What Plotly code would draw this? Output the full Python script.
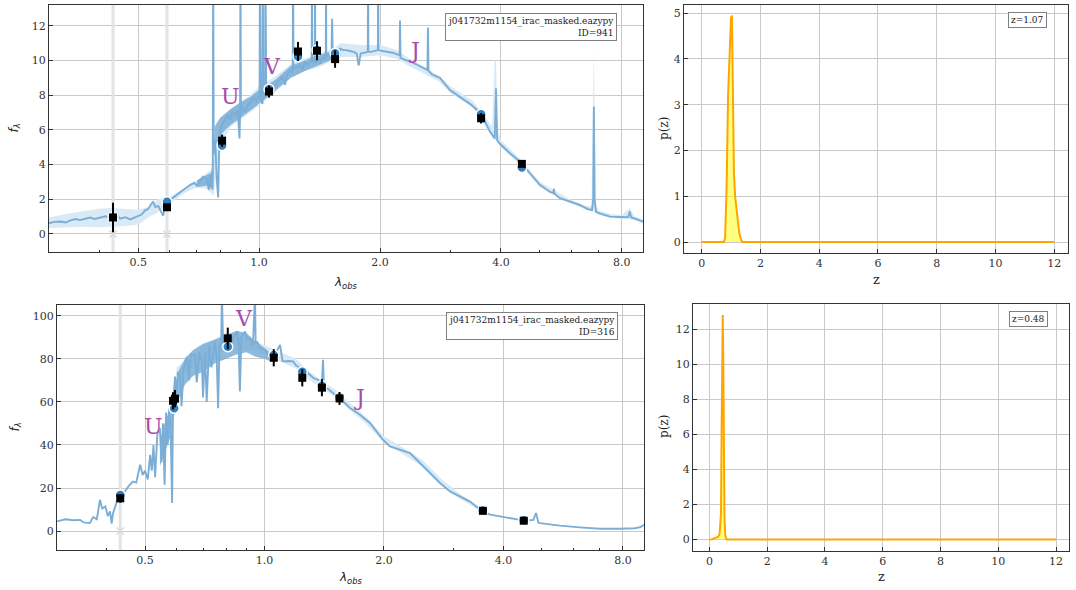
import math
import plotly.graph_objects as go

# ---------------- data: top object (ID=941) ----------------
top_wave = [
    0.300, 0.310, 0.320, 0.330, 0.339, 0.350, 0.358, 0.370, 0.380, 0.390,
    0.402, 0.415, 0.425, 0.433, 0.445, 0.451, 0.465, 0.478, 0.490, 0.500,
    0.510, 0.520, 0.530, 0.540, 0.545, 0.552, 0.561, 0.570, 0.577, 0.583,
    0.590, 0.601, 0.615, 0.636, 0.655, 0.673, 0.690, 0.700, 0.713, 0.725,
    0.742, 0.750, 0.755, 0.762, 0.767, 0.769, 0.771, 0.778, 0.785, 0.791,
    0.796, 0.803, 0.810, 0.823, 0.835, 0.847, 0.860, 0.873, 0.885, 0.894,
    0.897, 0.899, 0.901, 0.915, 0.925, 0.940, 0.953, 0.970, 0.985, 0.998,
    1.003, 1.005, 1.010, 1.020, 1.022, 1.024, 1.030, 1.035, 1.037, 1.042,
    1.055, 1.065, 1.080, 1.095, 1.110, 1.128, 1.145, 1.160, 1.175, 1.194,
    1.208, 1.213, 1.215, 1.218, 1.240, 1.265, 1.280, 1.300, 1.320, 1.340,
    1.352, 1.354, 1.356, 1.365, 1.376, 1.378, 1.380, 1.400, 1.420, 1.440,
    1.455, 1.466, 1.468, 1.470, 1.490, 1.515, 1.520, 1.525, 1.560, 1.591,
    1.620, 1.650, 1.684, 1.720, 1.750, 1.770, 1.790, 1.830, 1.865, 1.868,
    1.871, 1.900, 1.940, 1.976, 1.979, 1.982, 2.030, 2.090, 2.150, 2.210,
    2.238, 2.243, 2.250, 2.300, 2.375, 2.450, 2.515, 2.580, 2.625, 2.633,
    2.641, 2.694, 2.820, 2.987, 3.164, 3.350, 3.570, 3.756, 3.860, 3.889,
    3.915, 3.977, 4.212, 4.510, 4.724, 5.002, 5.297, 5.400, 5.418, 5.440,
    5.609, 5.937, 6.291, 6.583, 6.740, 6.790, 6.814, 6.840, 6.900, 7.051,
    7.467, 7.909, 8.300, 8.370, 8.440, 8.700, 9.030,
]
top_flux = [
    0.63, 0.70, 0.72, 0.66, 0.78, 0.86, 0.80, 0.90, 0.95, 0.86,
    0.92, 1.02, 0.94, 0.98, 1.04, 0.88, 0.97, 0.84, 0.96, 1.05,
    1.12, 1.35, 1.45, 1.75, 1.85, 1.55, 1.62, 1.30, 1.05, 1.55,
    1.78, 1.96, 2.12, 2.40, 2.62, 2.82, 2.95, 2.78, 3.05, 3.30,
    3.15, 2.55, 3.40, 2.70, 4.00, 16.0, 4.60, 5.40, 3.10, 2.10,
    5.20, 6.10, 6.30, 6.55, 6.85, 6.60, 7.05, 6.85, 7.15, 5.50,
    7.00, 16.0, 7.00, 7.25, 7.05, 7.50, 7.60, 7.85, 7.65, 7.95,
    7.90, 16.0, 7.70, 7.50, 16.0, 7.80, 7.90, 7.95, 16.0, 8.00,
    8.30, 8.20, 8.60, 8.45, 8.80, 8.90, 9.05, 8.60, 9.20, 9.40,
    9.30, 9.40, 16.0, 9.50, 9.60, 9.70, 9.45, 9.90, 9.75, 9.90,
    10.0, 16.0, 9.95, 10.0, 9.90, 16.0, 9.85, 10.10, 9.90, 10.20,
    10.10, 10.20, 16.0, 10.30, 10.25, 10.35, 12.40, 10.40, 10.50, 10.70,
    10.60, 10.60, 10.55, 10.50, 10.40, 9.70, 10.40, 10.45, 10.50, 16.0,
    10.50, 10.50, 10.55, 10.60, 16.0, 10.60, 10.55, 10.50, 10.45, 10.35,
    10.30, 12.30, 10.15, 10.05, 9.95, 9.80, 9.65, 9.50, 9.45, 11.90,
    9.40, 9.20, 9.00, 8.30, 7.90, 7.50, 6.95, 5.90, 5.50, 8.40,
    5.40, 5.20, 4.65, 4.08, 3.50, 2.83, 2.42, 2.35, 2.62, 2.30,
    2.06, 1.86, 1.67, 1.43, 1.38, 2.00, 7.35, 2.00, 1.28, 1.19,
    1.00, 0.98, 0.97, 1.30, 0.95, 0.85, 0.71,
]
# uncertainty band of the model
top_band_wave = [
    0.30, 0.33, 0.36, 0.40, 0.43, 0.46, 0.50, 0.53, 0.56, 0.60,
    0.65, 0.70, 0.74, 0.77, 0.80, 0.85, 0.90, 0.95, 1.00, 1.10,
    1.20, 1.30, 1.40, 1.50, 1.60, 1.80, 2.00, 2.20, 2.40, 2.60,
    2.80, 3.00, 3.40, 3.80, 3.86, 3.89, 3.92, 4.00, 4.50, 5.00,
    5.50, 6.00, 6.50, 6.72, 6.81, 6.90, 7.00, 7.50, 8.00, 8.37,
    8.60, 9.03,
]
top_band_lo = [
    0.35, 0.40, 0.42, 0.38, 0.40, 0.45, 0.55, 0.95, 1.25, 1.75,
    2.35, 2.70, 2.60, 2.20, 5.00, 6.20, 6.60, 7.00, 7.40, 8.20,
    9.00, 9.40, 9.60, 9.90, 10.20, 10.20, 10.30, 10.10, 9.60, 9.20,
    8.80, 8.10, 7.30, 5.60, 5.40, 5.40, 5.30, 5.00, 3.90, 2.70,
    2.20, 1.75, 1.40, 1.30, 1.30, 1.20, 1.10, 0.95, 0.85, 0.85,
    0.80, 0.60,
]
top_band_hi = [
    0.95, 1.15, 1.30, 1.45, 1.50, 1.45, 1.40, 1.55, 2.00, 2.15,
    2.60, 3.05, 3.50, 3.80, 6.60, 7.20, 7.60, 8.00, 8.50, 9.10,
    9.80, 10.10, 10.40, 10.60, 11.00, 10.90, 10.90, 10.60, 10.00, 9.60,
    9.10, 8.50, 7.70, 6.20, 10.00, 10.00, 6.00, 5.40, 4.25, 3.00,
    2.45, 1.95, 1.60, 1.60, 10.60, 1.60, 1.35, 1.15, 1.10, 1.50,
    1.00, 0.85,
]
# envelope of the densely sampled (noisy) part of the model spectrum
top_dense_wave = [0.70, 0.74, 0.77, 0.775, 0.80, 0.85, 0.90, 0.95, 1.00, 1.05,
                  1.10, 1.20, 1.30, 1.40, 1.50, 1.60]
top_dense_lo = [2.70, 2.80, 2.50, 4.60, 5.70, 6.30, 6.70, 7.10, 7.50, 7.90,
                8.30, 9.00, 9.40, 9.70, 10.00, 10.30]
top_dense_hi = [3.10, 3.40, 3.60, 6.20, 6.70, 7.20, 7.60, 7.90, 8.30, 8.60,
                8.90, 9.70, 10.00, 10.30, 10.50, 10.70]

top_phot_wave = [0.433, 0.590, 0.809, 1.059, 1.250, 1.394, 1.546, 3.570, 4.510]
top_obs_flux = [0.95, 1.54, 5.38, 8.21, 10.52, 10.56, 10.08, 6.67, 4.04]
top_obs_err = [0.85, 0.18, 0.35, 0.35, 0.55, 0.55, 0.50, 0.30, 0.18]
top_model_flux = [0.97, 1.86, 5.10, 8.35, 10.23, 10.60, 10.42, 6.90, 3.83]
top_masked_wave = [0.433, 0.590]
top_masked_flux = [0.0, 0.0]

# ---------------- data: bottom object (ID=316) ----------------
bot_wave = [
    0.300, 0.315, 0.330, 0.343, 0.350, 0.363, 0.370, 0.378, 0.385, 0.390,
    0.397, 0.403, 0.408, 0.412, 0.415, 0.425, 0.433, 0.445, 0.455, 0.466,
    0.475, 0.486, 0.493, 0.500, 0.508, 0.515, 0.520, 0.525, 0.530, 0.537,
    0.545, 0.550, 0.555, 0.560, 0.565, 0.570, 0.575, 0.580, 0.585, 0.588,
    0.595, 0.600, 0.605, 0.612, 0.618, 0.625, 0.638, 0.645, 0.652, 0.668,
    0.675, 0.685, 0.695, 0.700, 0.708, 0.715, 0.725, 0.735, 0.750, 0.758,
    0.764, 0.770, 0.778, 0.781, 0.786, 0.795, 0.809, 0.820, 0.835, 0.853,
    0.860, 0.867, 0.874, 0.893, 0.905, 0.919, 0.935, 0.946, 0.950, 0.958,
    0.975, 0.990, 1.003, 1.020, 1.050, 1.070, 1.094, 1.110, 1.126, 1.150,
    1.180, 1.200, 1.229, 1.250, 1.275, 1.302, 1.330, 1.364, 1.395, 1.404,
    1.412, 1.437, 1.500, 1.549, 1.642, 1.740, 1.844, 1.920, 1.988, 2.071,
    2.194, 2.326, 2.464, 2.611, 2.767, 2.933, 3.108, 3.293, 3.450, 3.550,
    3.698, 3.919, 4.153, 4.401, 4.664, 4.760, 4.830, 4.900, 4.943, 5.550,
    6.230, 7.000, 7.860, 8.580, 8.850, 9.040,
]
bot_flux = [
    4.5, 5.5, 5.0, 5.2, 4.0, 3.7, 6.5, 5.5, 14.5, 10.5,
    11.4, 7.0, 9.1, 3.5, 8.0, 14.0, 16.0, 18.4, 21.0, 23.0,
    22.5, 30.8, 26.0, 28.0, 24.0, 35.4, 28.0, 40.0, 25.0, 45.0,
    47.8, 32.0, 50.0, 21.5, 55.0, 40.0, 57.0, 48.0, 13.0, 58.0,
    71.8, 62.0, 74.0, 72.6, 58.0, 75.0, 81.0, 70.0, 82.0, 81.9,
    69.0, 83.0, 79.0, 62.0, 83.4, 60.0, 86.0, 76.0, 88.0, 80.0,
    57.0, 86.0, 88.0, 110.0, 88.0, 84.0, 86.5, 85.0, 90.0, 92.7,
    88.0, 64.8, 90.0, 92.7, 89.0, 89.6, 86.0, 110.0, 87.0, 88.0,
    85.0, 84.5, 84.2, 82.0, 81.0, 83.0, 86.5, 79.0, 78.8, 79.0,
    78.8, 77.0, 75.7, 71.8, 74.1, 72.5, 71.0, 70.3, 68.0, 79.6,
    67.0, 66.4, 63.5, 61.8, 57.1, 54.0, 50.2, 46.0, 42.4, 39.3,
    37.8, 36.2, 31.6, 26.9, 22.3, 18.4, 16.1, 13.7, 10.7, 9.6,
    7.6, 6.8, 6.0, 5.2, 5.0, 5.2, 8.4, 4.0, 3.7, 2.5,
    1.7, 1.1, 1.1, 1.3, 1.8, 2.9,
]
bot_band_wave = [0.60, 0.70, 0.80, 0.95, 1.00, 1.10, 1.20, 1.30, 1.40, 1.50,
                 1.60, 1.80, 2.00, 2.20, 2.50, 2.80, 3.10, 3.50]
bot_band_lo = [70.0, 80.0, 84.0, 84.0, 82.0, 78.5, 75.5, 70.0, 66.0, 62.5,
               58.0, 50.0, 41.0, 36.5, 30.0, 21.0, 15.0, 9.5]
bot_band_hi = [76.0, 86.0, 92.0, 88.0, 86.0, 83.0, 80.0, 74.0, 69.5, 66.0,
               61.5, 53.0, 44.0, 39.5, 33.0, 24.0, 17.5, 11.0]
bot_dense_wave = [0.545, 0.56, 0.58, 0.595, 0.61, 0.63, 0.66, 0.70, 0.75, 0.80,
                  0.85, 0.90, 0.95, 1.00, 1.03]
bot_dense_lo = [30.0, 36.0, 44.0, 56.0, 62.0, 68.0, 72.0, 74.0, 78.0, 80.0,
                82.0, 83.0, 81.0, 80.0, 79.0]
bot_dense_hi = [42.0, 50.0, 58.0, 68.0, 75.0, 80.0, 84.0, 87.0, 89.0, 91.0,
                93.0, 92.0, 88.0, 85.0, 83.0]
bot_obs_wave = [0.433, 0.588, 0.595, 0.808, 1.055, 1.245, 1.395, 1.545, 3.550, 4.500]
bot_obs_flux = [15.2, 60.5, 61.5, 89.5, 80.5, 71.2, 66.6, 61.6, 9.4, 4.8]
bot_obs_err = [2.0, 4.0, 4.0, 5.0, 4.0, 4.0, 4.0, 3.0, 1.0, 1.0]
bot_model_wave = [0.433, 0.592, 0.808, 1.055, 1.245, 1.395, 1.545, 3.550, 4.500]
bot_model_flux = [16.7, 57.0, 85.6, 81.8, 74.0, 67.5, 62.0, 9.6, 5.0]
bot_masked_wave = [0.433]
bot_masked_flux = [0.0]

# ---------------- data: p(z) ----------------
top_z = [0.0, 0.76, 0.80, 0.85, 0.90, 0.95, 1.00, 1.03, 1.06, 1.10, 1.14, 1.20, 1.28, 1.35, 1.40, 12.0]
top_pz = [0.0, 0.0, 0.10, 1.20, 3.20, 4.30, 4.90, 4.95, 3.50, 1.50, 1.00, 0.60, 0.20, 0.04, 0.0, 0.0]
bot_z = [0.0, 0.10, 0.20, 0.30, 0.35, 0.40, 0.42, 0.44, 0.46, 0.48, 0.50, 0.52, 0.55, 0.60, 12.0]
bot_pz = [0.0, 0.02, 0.10, 0.15, 0.30, 1.50, 6.00, 11.00, 12.80, 10.00, 4.50, 1.20, 0.20, 0.0, 0.0]

# labels
catalog_name = "j041732m1154_irac_masked.eazypy"
top_id, bot_id = 941, 316
top_zbest, bot_zbest = 1.07, 0.48
top_uvj = [("U", 0.847, 7.9), ("V", 1.08, 9.64), ("J", 2.44, 10.6)]
bot_uvj = [("U", 0.526, 48.4), ("V", 0.89, 98.8), ("J", 1.74, 62.0)]

wave_ticks = [0.5, 1.0, 2.0, 4.0, 8.0]
wave_ticktext = ["0.5", "1.0", "2.0", "4.0", "8.0"]
wave_minor = [0.3, 0.4, 0.6, 0.7, 0.8, 0.9, 3.0, 5.0, 6.0, 7.0, 9.0]

# ---------------- styles ----------------
LINE_C = "#7aaed6"
BAND_C = "#d9e9f5"
MODEL_C = "#2f7fbe"
PZ_LINE = "#ffa500"
PZ_FILL = "rgba(255,255,0,0.5)"
UVJ_C = "#a94ba9"
SERIF = "DejaVu Serif"
SANS = "DejaVu Sans"

fig = go.Figure()


def add_sed(xa, ya, wave, flux, bw, blo, bhi, dw, dlo, dhi, mw, mf, ow, of, oe, kw, kf):
    # masked filters: faint vertical bars spanning the whole panel (huge error bars)
    fig.add_trace(go.Scatter(
        x=kw, y=kf, mode="markers",
        marker=dict(symbol="x-thin", size=7, line=dict(width=1.5, color="#d8d8d8")),
        error_y=dict(type="data", array=[1000.0] * len(kw), visible=True,
                     thickness=3, width=0, color="#e3e3e3"),
        xaxis=xa, yaxis=ya))
    fig.add_trace(go.Scatter(
        x=bw + bw[::-1], y=blo + bhi[::-1], fill="toself", fillcolor=BAND_C,
        line=dict(width=0), mode="lines", xaxis=xa, yaxis=ya, hoverinfo="skip"))
    fig.add_trace(go.Scatter(
        x=dw + dw[::-1], y=dlo + dhi[::-1], fill="toself",
        fillcolor="rgba(122,174,214,0.85)",
        line=dict(width=0), mode="lines", xaxis=xa, yaxis=ya, hoverinfo="skip"))
    fig.add_trace(go.Scatter(
        x=wave, y=flux, mode="lines", line=dict(color=LINE_C, width=1.9),
        xaxis=xa, yaxis=ya))
    fig.add_trace(go.Scatter(
        x=mw, y=mf, mode="markers",
        marker=dict(symbol="circle", size=10, color=MODEL_C,
                    line=dict(width=1.5, color="white")),
        xaxis=xa, yaxis=ya))
    fig.add_trace(go.Scatter(
        x=ow, y=of, mode="markers",
        marker=dict(symbol="square", size=8, color="black"),
        error_y=dict(type="data", array=oe, visible=True, thickness=2,
                     width=0, color="black"),
        xaxis=xa, yaxis=ya))


add_sed("x", "y", top_wave, top_flux, top_band_wave, top_band_lo, top_band_hi,
        top_dense_wave, top_dense_lo, top_dense_hi,
        top_phot_wave, top_model_flux, top_phot_wave, top_obs_flux, top_obs_err,
        top_masked_wave, top_masked_flux)
add_sed("x3", "y3", bot_wave, bot_flux, bot_band_wave, bot_band_lo, bot_band_hi,
        bot_dense_wave, bot_dense_lo, bot_dense_hi,
        bot_model_wave, bot_model_flux, bot_obs_wave, bot_obs_flux, bot_obs_err,
        bot_masked_wave, bot_masked_flux)

for xa, ya, zz, pp in [("x2", "y2", top_z, top_pz), ("x4", "y4", bot_z, bot_pz)]:
    fig.add_trace(go.Scatter(
        x=zz, y=pp, mode="lines", fill="tozeroy", fillcolor=PZ_FILL,
        line=dict(color=PZ_LINE, width=2), xaxis=xa, yaxis=ya))

W, H = 1076, 590


def dom_x(a, b):
    return [a / W, b / W]


def dom_y(top, bottom):
    return [1 - bottom / H, 1 - top / H]


axis_common = dict(
    showline=True, linecolor="#333333", linewidth=1, mirror=True,
    ticks="inside", ticklen=4, tickwidth=1, tickcolor="#333333",
    showgrid=True, gridcolor="#c9c9c9", gridwidth=1, zeroline=False,
    tickfont=dict(family=SERIF, size=11, color="#333333"),
)

log_minor = dict(tickmode="array", tickvals=wave_minor, ticks="inside",
                 ticklen=2.5, tickcolor="#333333", showgrid=False)

fig.update_layout(
    width=W, height=H, margin=dict(l=0, r=0, t=0, b=0),
    paper_bgcolor="white", plot_bgcolor="white", showlegend=False,
    xaxis=dict(axis_common, type="log", domain=dom_x(49, 643),
               range=[math.log10(0.30), math.log10(9.03)],
               tickmode="array", tickvals=wave_ticks, ticktext=wave_ticktext,
               minor=log_minor, anchor="y"),
    yaxis=dict(axis_common, domain=dom_y(5, 252), range=[-1.04, 13.2],
               tickmode="array", tickvals=[0, 2, 4, 6, 8, 10, 12], anchor="x"),
    xaxis2=dict(axis_common, domain=dom_x(684, 1068), range=[-0.6, 12.47],
                tickmode="array", tickvals=[0, 2, 4, 6, 8, 10, 12], anchor="y2"),
    yaxis2=dict(axis_common, domain=dom_y(5, 253), range=[-0.24, 5.18],
                tickmode="array", tickvals=[0, 1, 2, 3, 4, 5], anchor="x2"),
    xaxis3=dict(axis_common, type="log", domain=dom_x(57, 644),
                range=[math.log10(0.30), math.log10(9.04)],
                tickmode="array", tickvals=wave_ticks, ticktext=wave_ticktext,
                minor=log_minor, anchor="y3"),
    yaxis3=dict(axis_common, domain=dom_y(305, 550), range=[-8.8, 105],
                tickmode="array", tickvals=[0, 20, 40, 60, 80, 100], anchor="x3"),
    xaxis4=dict(axis_common, domain=dom_x(693, 1069), range=[-0.57, 12.45],
                tickmode="array", tickvals=[0, 2, 4, 6, 8, 10, 12], anchor="y4"),
    yaxis4=dict(axis_common, domain=dom_y(304, 551), range=[-0.65, 13.43],
                tickmode="array", tickvals=[0, 2, 4, 6, 8, 10, 12], anchor="x4"),
)

ann = []
# U, V, J labels
for xa, ya, lst in [("x", "y", top_uvj), ("x3", "y3", bot_uvj)]:
    for t, wx, fy in lst:
        ann.append(dict(text=t, x=math.log10(wx), y=fy, xref=xa, yref=ya,
                        showarrow=False, xanchor="center", yanchor="middle",
                        font=dict(family=SERIF, size=22, color=UVJ_C)))

# info boxes
box = dict(showarrow=False, xref="paper", yref="paper", xanchor="right",
           yanchor="top", align="right", bgcolor="white", bordercolor="#808080",
           borderwidth=1, borderpad=2, font=dict(family=SERIF, size=9, color="#222222"))
ann.append(dict(box, text=f"{catalog_name}<br>ID={top_id}", x=617 / W, y=1 - 13 / H))
ann.append(dict(box, text=f"{catalog_name}<br>ID={bot_id}", x=618 / W, y=1 - 312 / H))
ann.append(dict(box, text=f"z={top_zbest:.2f}", x=1047 / W, y=1 - 12 / H))
ann.append(dict(box, text=f"z={bot_zbest:.2f}", x=1048 / W, y=1 - 311 / H))

# axis titles
lab = dict(showarrow=False, xref="paper", yref="paper", xanchor="center", yanchor="middle")
lam_txt = "<i>λ</i><sub><i>obs</i></sub>"
f_txt = "<i>f</i><sub><i>λ</i></sub>"
ann.append(dict(lab, text=lam_txt, x=346 / W, y=1 - 283 / H, font=dict(family=SANS, size=12, color="#222")))
ann.append(dict(lab, text=lam_txt, x=350.5 / W, y=1 - 578 / H, font=dict(family=SANS, size=12, color="#222")))
ann.append(dict(lab, text=f_txt, x=15 / W, y=1 - 128.5 / H, textangle=-90, font=dict(family=SANS, size=12, color="#222")))
ann.append(dict(lab, text=f_txt, x=15 / W, y=1 - 427.5 / H, textangle=-90, font=dict(family=SANS, size=12, color="#222")))
ann.append(dict(lab, text="p(z)", x=664 / W, y=1 - 129 / H, textangle=-90, font=dict(family=SERIF, size=12, color="#222")))
ann.append(dict(lab, text="p(z)", x=664 / W, y=1 - 427 / H, textangle=-90, font=dict(family=SERIF, size=12, color="#222")))
ann.append(dict(lab, text="z", x=876 / W, y=1 - 279 / H, font=dict(family=SERIF, size=13, color="#222")))
ann.append(dict(lab, text="z", x=881 / W, y=1 - 576 / H, font=dict(family=SERIF, size=13, color="#222")))

fig.update_layout(annotations=ann)
fig.write_html("out.html")
